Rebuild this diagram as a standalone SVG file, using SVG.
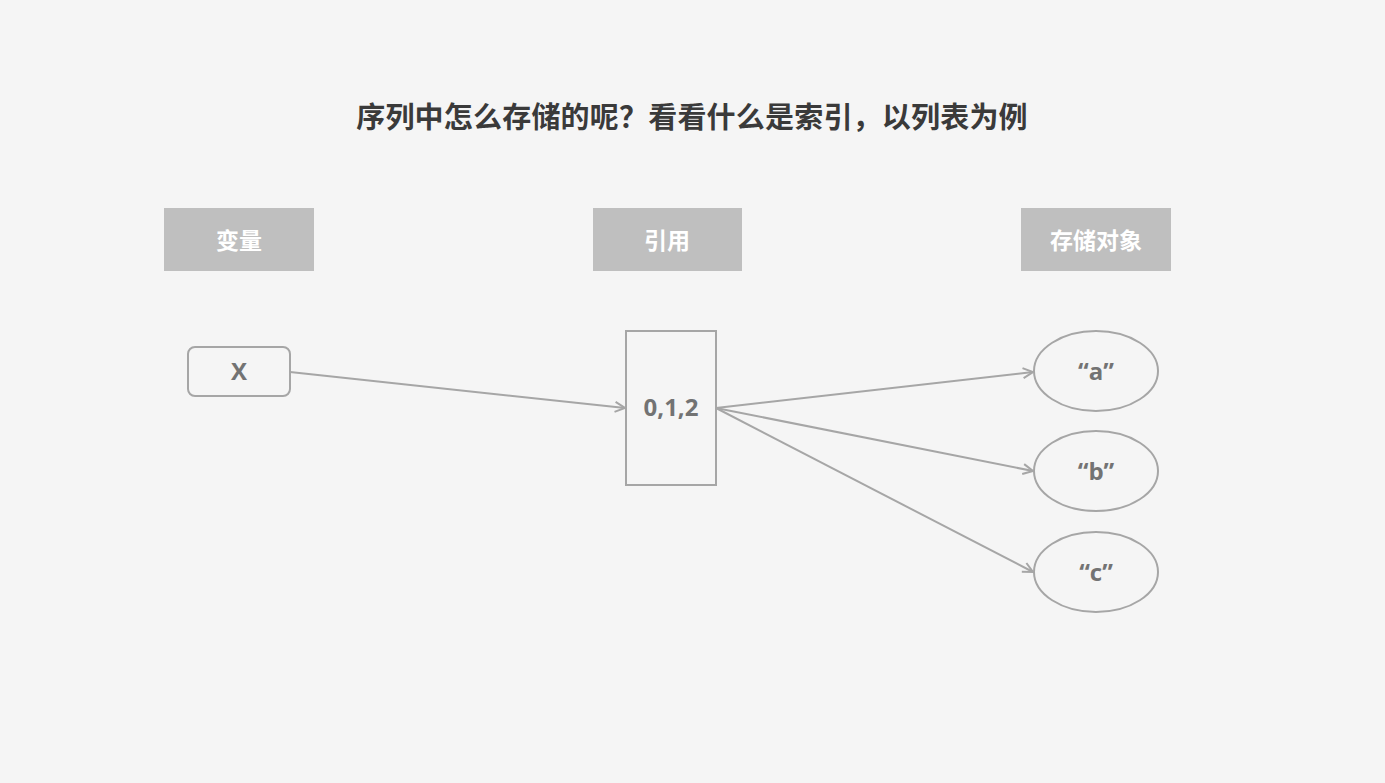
<svg xmlns="http://www.w3.org/2000/svg" width="1385" height="783" viewBox="0 0 1385 783">
<style>
.hdr{fill:#bfbfbf}
.hdrt{fill:#ffffff;font-family:"Noto Sans CJK SC","Noto Sans",sans-serif;font-weight:bold;font-size:23px;text-anchor:middle}
.node{fill:none;stroke:#a6a6a6;stroke-width:2}
.nt{fill:#737373;font-family:"Open Sans","Noto Sans","Liberation Sans",sans-serif;font-weight:bold;font-size:24px;text-anchor:middle}
.conn{stroke:#a6a6a6;stroke-width:2;fill:none;marker-end:url(#arr)}
</style>
<defs>
<marker id="arr" viewBox="0 0 12 12" refX="11" refY="6" markerWidth="12" markerHeight="12" markerUnits="userSpaceOnUse" orient="auto">
<path d="M1,1 L11,6 L1,11" fill="none" stroke="#a6a6a6" stroke-width="2"/>
</marker>
</defs>
<rect width="1385" height="783" fill="#f5f5f5"/>
<text x="692" y="128" font-family="Noto Sans CJK SC,sans-serif" font-weight="bold" font-size="29" letter-spacing="0.2" fill="#3a3a3a" text-anchor="middle">序列中怎么存储的呢？看看什么是索引，以列表为例</text>
<g id="h1"><rect class="hdr" x="164" y="208" width="150" height="63"/><text class="hdrt" x="239" y="249">变量</text></g>
<g id="h2"><rect class="hdr" x="593" y="208" width="149" height="63"/><text class="hdrt" x="667" y="249">引用</text></g>
<g id="h3"><rect class="hdr" x="1021" y="208" width="150" height="63"/><text class="hdrt" x="1096" y="249">存储对象</text></g>
<g id="x"><rect class="node" x="188" y="347" width="102" height="49" rx="7"/><text class="nt" x="239" y="380">X</text></g>
<g id="ref"><rect class="node" x="626" y="331" width="90" height="154"/><text class="nt" x="671" y="416">0,1,2</text></g>
<g id="a"><ellipse class="node" cx="1096" cy="371" rx="62" ry="40"/><text class="nt" x="1096" y="380">“a”</text></g>
<g id="b"><ellipse class="node" cx="1096" cy="471" rx="62" ry="40"/><text class="nt" x="1096" y="480">“b”</text></g>
<g id="c"><ellipse class="node" cx="1096" cy="572" rx="62" ry="40"/><text class="nt" x="1096" y="581">“c”</text></g>
<g id="connectors">
<line class="conn" x1="290" y1="372" x2="625" y2="408"/>
<line class="conn" x1="716" y1="408" x2="1033" y2="372"/>
<line class="conn" x1="716" y1="408" x2="1033" y2="471"/>
<line class="conn" x1="716" y1="408" x2="1033" y2="572"/>
</g>
</svg>
